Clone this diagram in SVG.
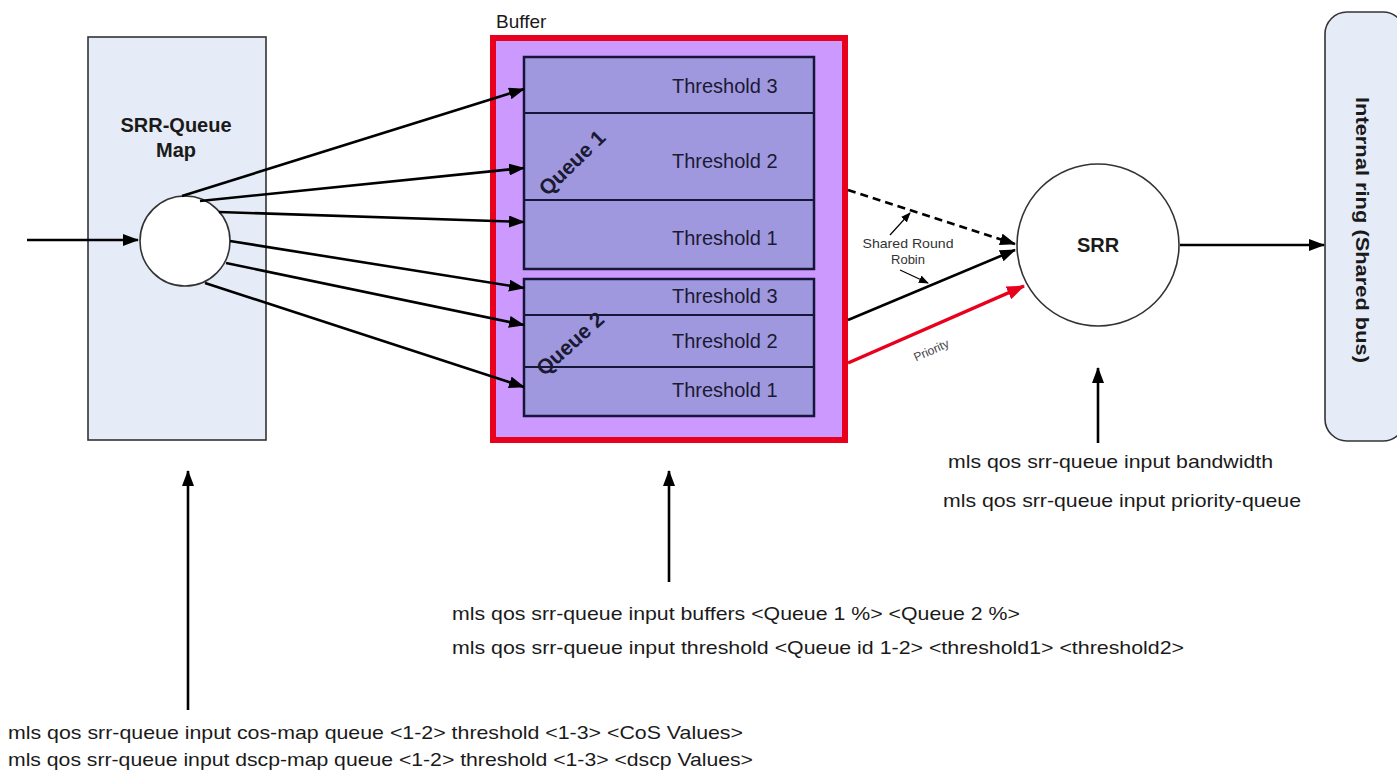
<svg xmlns="http://www.w3.org/2000/svg" width="1397" height="772" viewBox="0 0 1397 772">
<defs>
<style>
.t{font-family:"Liberation Sans",Arial,sans-serif;fill:#1a1a1a}
.cmd{font-size:18.5px}
.th{font-size:20px;fill:#1a1a33}
.b{font-weight:bold}
.conn{stroke:#000;stroke-width:2.6;fill:none}
.box{fill:#E6ECF7;stroke:#333;stroke-width:1.6}
.q{fill:#A098DF;stroke:#16163a;stroke-width:2.5}
.sep{stroke:#16163a;stroke-width:2}
</style>
<marker id="ah" viewBox="0 0 16 12" refX="15" refY="6" markerWidth="16" markerHeight="12" markerUnits="userSpaceOnUse" orient="auto"><path d="M0,0 L16,6 L0,12 z" fill="#000"/></marker>
<marker id="ahr" viewBox="0 0 18 14" refX="17" refY="7" markerWidth="18" markerHeight="14" markerUnits="userSpaceOnUse" orient="auto"><path d="M0,0 L18,7 L0,14 z" fill="#E8001C"/></marker>
<marker id="ahs" viewBox="0 0 10 8" refX="9" refY="4" markerWidth="10" markerHeight="8" markerUnits="userSpaceOnUse" orient="auto"><path d="M0,0 L10,4 L0,8 z" fill="#000"/></marker>
</defs>
<rect width="1397" height="772" fill="#fff"/>

<g id="srr-queue-map">
<rect class="box" x="88" y="37" width="178" height="403"/>
<text class="t b" x="176" y="132" font-size="20" text-anchor="middle">SRR-Queue</text>
<text class="t b" x="176" y="157" font-size="20" text-anchor="middle">Map</text>
<circle cx="185" cy="241" r="45" fill="#fff" stroke="#333" stroke-width="1.6"/>
</g>

<g id="buffer">
<text class="t" x="496" y="28" font-size="19">Buffer</text>
<rect x="493" y="38" width="352" height="402" fill="#CC99FF" stroke="#E8001C" stroke-width="6"/>
</g>

<g id="queue1">
<rect class="q" x="524" y="57" width="290" height="212"/>
<line class="sep" x1="524" y1="113" x2="814" y2="113"/>
<line class="sep" x1="524" y1="200" x2="814" y2="200"/>
<text class="t th" x="672" y="93">Threshold 3</text>
<text class="t th" x="672" y="168">Threshold 2</text>
<text class="t th" x="672" y="245">Threshold 1</text>
<text class="t b" font-size="21" text-anchor="middle" transform="translate(577,168) rotate(-44)" style="fill:#1a1a33">Queue 1</text>
</g>

<g id="queue2">
<rect class="q" x="524" y="279" width="290" height="137"/>
<line class="sep" x1="524" y1="315" x2="814" y2="315"/>
<line class="sep" x1="524" y1="367" x2="814" y2="367"/>
<text class="t th" x="672" y="303">Threshold 3</text>
<text class="t th" x="672" y="348">Threshold 2</text>
<text class="t th" x="672" y="397">Threshold 1</text>
<text class="t b" font-size="21" text-anchor="middle" transform="translate(575,349) rotate(-42)" style="fill:#1a1a33">Queue 2</text>
</g>

<g id="srr">
<circle cx="1098" cy="245" r="81" fill="#fff" stroke="#333" stroke-width="1.6"/>
<text class="t b" x="1098" y="252" font-size="20" text-anchor="middle">SRR</text>
</g>

<g id="internal-ring">
<rect class="box" x="1325" y="12" width="80" height="429" rx="22"/>
<text class="t b" font-size="19" text-anchor="middle" textLength="266" lengthAdjust="spacingAndGlyphs" transform="translate(1356,230) rotate(90)">Internal ring (Shared bus)</text>
</g>

<g id="connectors">
<line class="conn" x1="27" y1="240" x2="138" y2="240" marker-end="url(#ah)"/>
<line class="conn" x1="182" y1="196" x2="524" y2="89" marker-end="url(#ah)"/>
<line class="conn" x1="200" y1="201" x2="524" y2="168" marker-end="url(#ah)"/>
<line class="conn" x1="219" y1="212" x2="524" y2="222" marker-end="url(#ah)"/>
<line class="conn" x1="230" y1="241" x2="524" y2="288" marker-end="url(#ah)"/>
<line class="conn" x1="226" y1="263" x2="524" y2="325" marker-end="url(#ah)"/>
<line class="conn" x1="205" y1="283" x2="524" y2="387" marker-end="url(#ah)"/>
<line class="conn" x1="848" y1="190" x2="1015" y2="244" stroke-dasharray="8,5" marker-end="url(#ah)"/>
<line class="conn" x1="848" y1="320" x2="1015" y2="250" marker-end="url(#ah)"/>
<line x1="848" y1="363" x2="1024" y2="286" stroke="#E8001C" stroke-width="3.5" marker-end="url(#ahr)"/>
<line class="conn" x1="1180" y1="245" x2="1324" y2="245" marker-end="url(#ah)"/>
<line class="conn" x1="188" y1="710" x2="188" y2="471" marker-end="url(#ah)"/>
<line class="conn" x1="669" y1="582" x2="669" y2="471" marker-end="url(#ah)"/>
<line class="conn" x1="1098" y1="443" x2="1098" y2="368" marker-end="url(#ah)"/>
<line x1="890" y1="235" x2="910" y2="213" stroke="#000" stroke-width="1.2" marker-end="url(#ahs)"/>
<line x1="900" y1="270" x2="928" y2="283" stroke="#000" stroke-width="1.2" marker-end="url(#ahs)"/>
</g>

<g id="labels">
<text class="t" x="908" y="248" font-size="13" text-anchor="middle" textLength="91" lengthAdjust="spacingAndGlyphs" style="fill:#333">Shared Round</text>
<text class="t" x="908" y="264" font-size="13" text-anchor="middle" style="fill:#333">Robin</text>
<text class="t" font-size="12" text-anchor="middle" transform="translate(933,354) rotate(-24)" style="fill:#444">Priority</text>
<text class="t cmd" x="948" y="468" textLength="325" lengthAdjust="spacingAndGlyphs">mls qos srr-queue input bandwidth</text>
<text class="t cmd" x="943" y="507" textLength="358" lengthAdjust="spacingAndGlyphs">mls qos srr-queue input priority-queue</text>
<text class="t cmd" x="452" y="620" textLength="568" lengthAdjust="spacingAndGlyphs">mls qos srr-queue input buffers &lt;Queue 1 %&gt; &lt;Queue 2 %&gt;</text>
<text class="t cmd" x="452" y="654" textLength="732" lengthAdjust="spacingAndGlyphs">mls qos srr-queue input threshold &lt;Queue id 1-2&gt; &lt;threshold1&gt; &lt;threshold2&gt;</text>
<text class="t cmd" x="8" y="739" textLength="735" lengthAdjust="spacingAndGlyphs">mls qos srr-queue input cos-map queue &lt;1-2&gt; threshold &lt;1-3&gt; &lt;CoS Values&gt;</text>
<text class="t cmd" x="8" y="766" textLength="745" lengthAdjust="spacingAndGlyphs">mls qos srr-queue input dscp-map queue &lt;1-2&gt; threshold &lt;1-3&gt; &lt;dscp Values&gt;</text>
</g>
</svg>
